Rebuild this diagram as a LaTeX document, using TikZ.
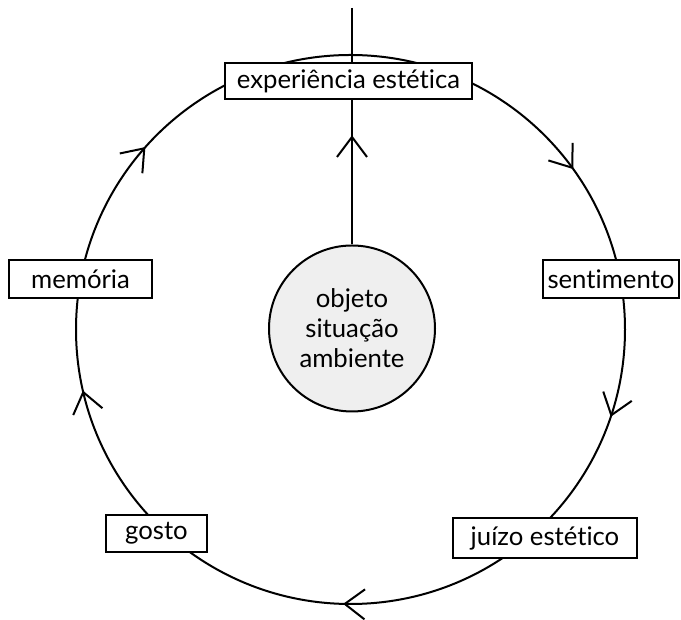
\documentclass[tikz,border=0pt]{standalone}
\usepackage{fontspec}
\setmainfont{Lato}[Ligatures=NoCommon]
\definecolor{discgray}{RGB}{239,239,239}
\newcommand\cwbarb[1]{\draw[shift={(C)},rotate=#1] (274.5-15,20) -- (274.5,0) -- (274.5+15,20);}
\begin{document}
\begin{tikzpicture}[x=1pt,y=1pt,line width=2pt,
  labelbox/.style={draw, fill=white, inner sep=0pt, font=\fontsize{25.7}{30}\selectfont},
  disc/.style={circle, draw, fill=discgray, inner sep=0pt, minimum size=166pt, align=center, font=\fontsize{25.7}{30}\selectfont}]
\useasboundingbox (0,0) rectangle (681,620);
\coordinate (C) at (350.5,290.5);
% cycle
\draw (C) circle[radius=274.5];
\cwbarb{36.1}
\cwbarb{-18.2}
\cwbarb{268.8}
\cwbarb{193.2}
\cwbarb{138.7}
% nodes
\node[labelbox, minimum width=247pt, minimum height=36pt] (exp) at (348.5,539) {experiência estética};
\node[labelbox, minimum width=143pt, minimum height=38pt] (mem) at (80.5,341) {memória};
\node[labelbox, minimum width=136pt, minimum height=38pt, text width=127pt, align=left] (sent) at (611,341) {sentimento};
\node[labelbox, minimum width=101pt, minimum height=37pt] (gos) at (156.5,86.5) {gosto};
\node[labelbox, minimum width=184pt, minimum height=40pt] (jui) at (545,82) {juízo estético};
\node[disc] (obj) at (352,291.5) {objeto\\situação\\ambiente};
% vertical line
\coordinate (top) at (352,612);
\coordinate (tip) at (352,483);
\draw (top) -- (top |- exp.north);
\draw (obj.north |- exp.south) -- (obj.north);
\draw ([shift={(-15,-20)}]tip) -- (tip) -- ([shift={(15,-20)}]tip);
\end{tikzpicture}
\end{document}
